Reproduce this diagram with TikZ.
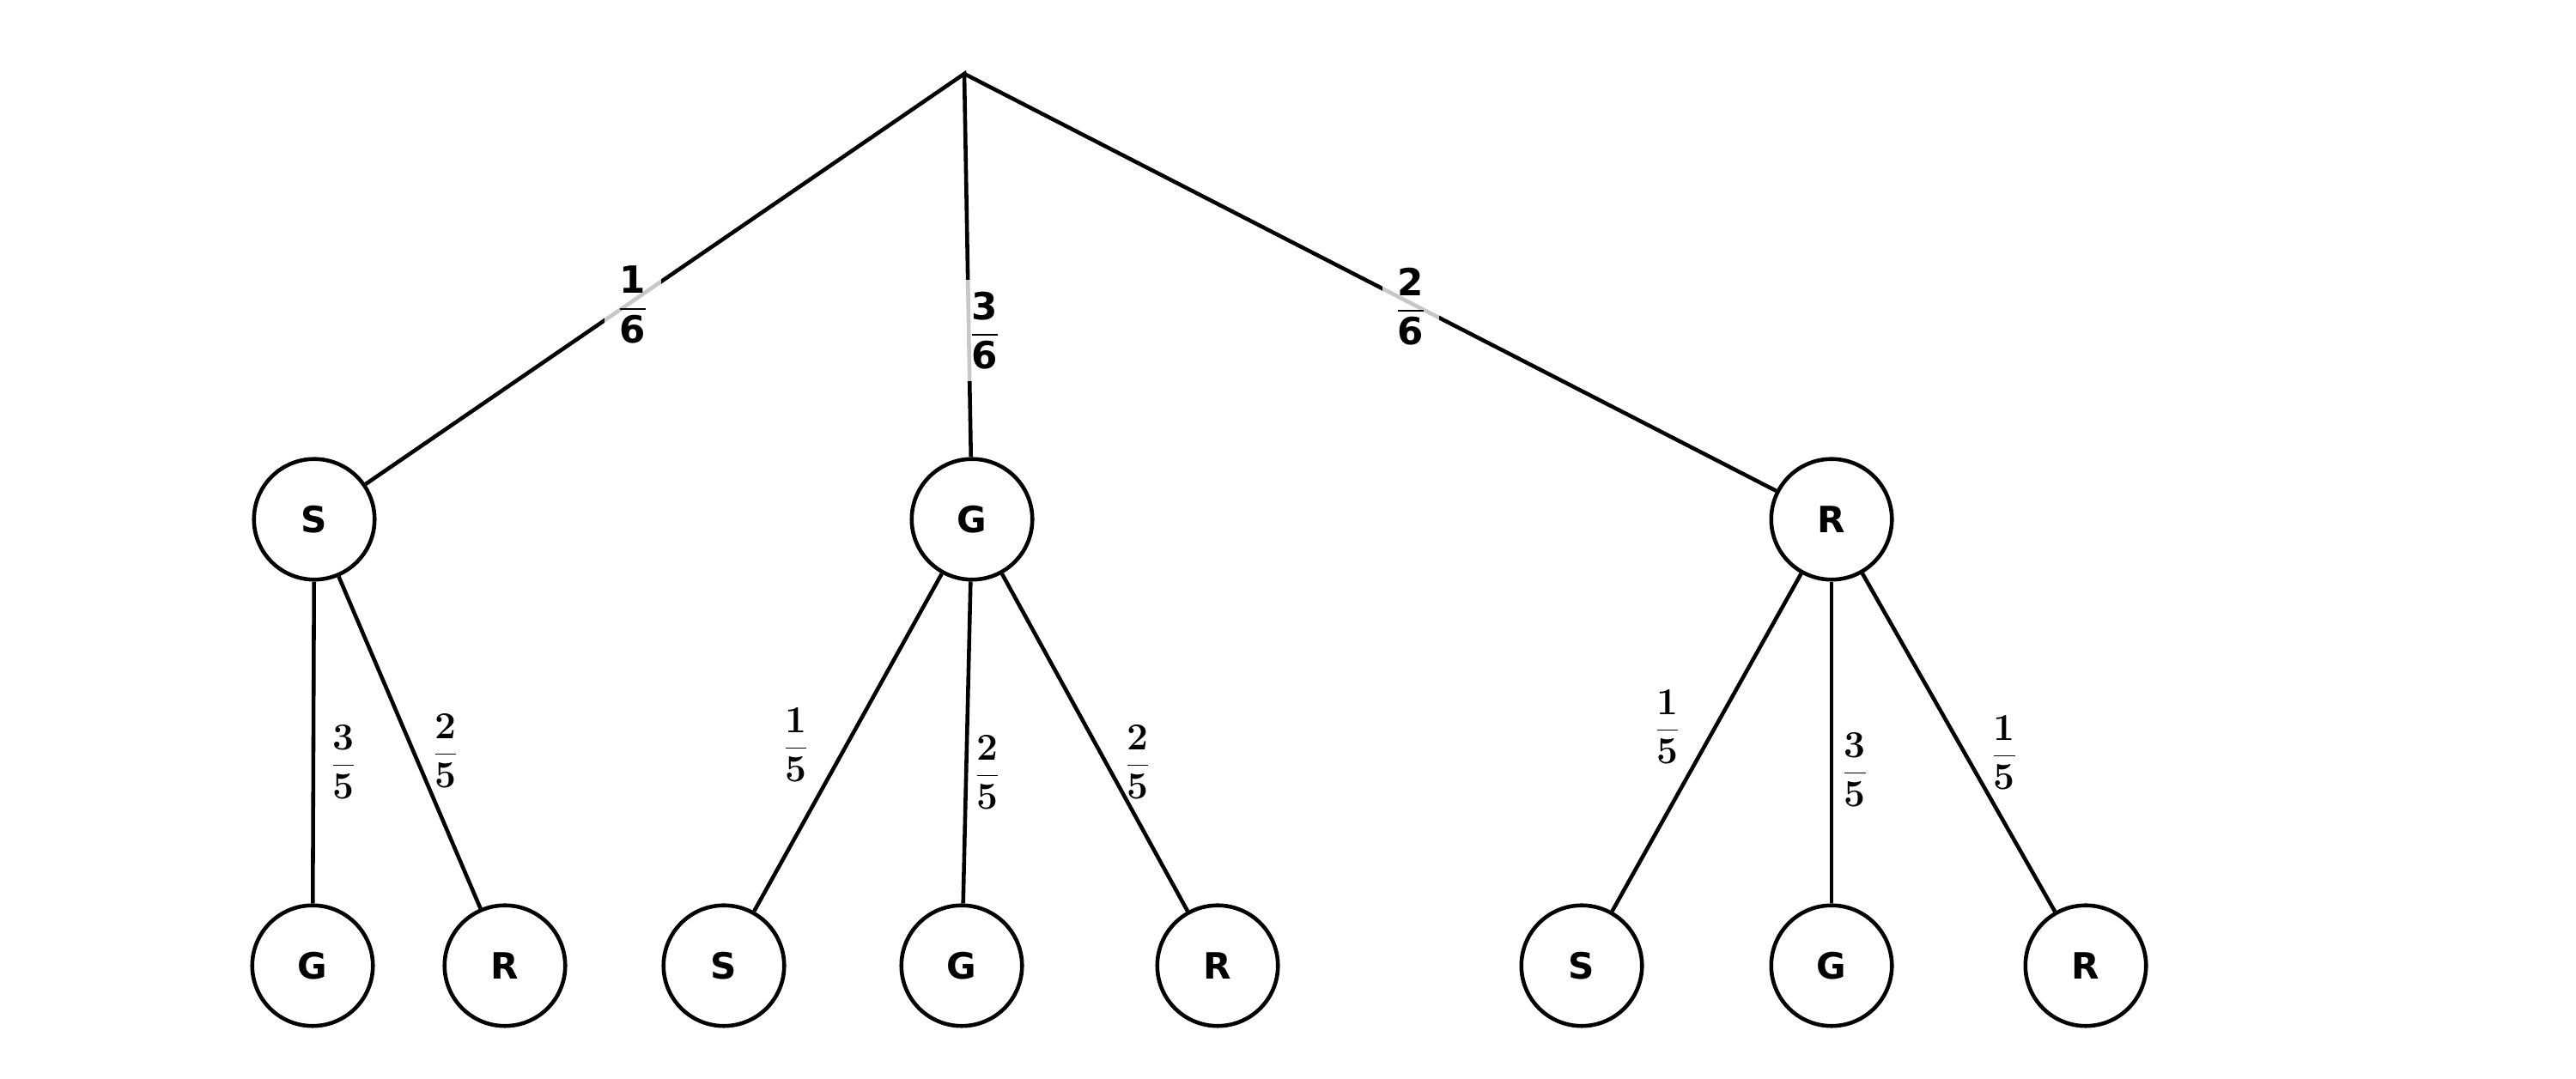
\documentclass[tikz,border=0pt]{standalone}
\usepackage[no-math]{fontspec}
\setmainfont{DejaVu Sans}
\newfontfamily\lmrfam{Latin Modern Roman}
\tikzset{
  edge/.style={line width=1.3pt, black},
  vertex/.style={circle, draw, line width=1.3pt, minimum size=1.405cm, inner sep=0pt, fill=white,
    font=\fontsize{12}{14}\selectfont\bfseries},
  toplab/.style={fill=white, fill opacity=0.78, text opacity=1, inner sep=4pt,
    font=\fontsize{12.4}{14}\selectfont},
  lowlab/.style={inner sep=1pt, font=\fontsize{12.6}{15}\selectfont},
}
\newcommand{\tf}[2]{$\displaystyle\frac{\mbox{\bfseries #1}}{\mbox{\bfseries #2}}$}
\newcommand{\lf}[2]{$\displaystyle\frac{\mbox{\lmrfam\bfseries #1}}{\mbox{\lmrfam\bfseries #2}}$}
\begin{document}
\begin{tikzpicture}
\useasboundingbox (0,0) rectangle (30,12.57);
% nodes
\coordinate (root) at (11.23,11.71);
\node[vertex] (S1) at (3.66,6.52) {S};
\node[vertex] (G1) at (11.32,6.52) {G};
\node[vertex] (R1) at (21.33,6.52) {R};
\node[vertex] (S1G) at (3.64,1.32) {G};
\node[vertex] (S1R) at (5.88,1.32) {R};
\node[vertex] (G1S) at (8.43,1.32) {S};
\node[vertex] (G1G) at (11.20,1.32) {G};
\node[vertex] (G1R) at (14.18,1.32) {R};
\node[vertex] (R1S) at (18.42,1.32) {S};
\node[vertex] (R1G) at (21.33,1.32) {G};
\node[vertex] (R1R) at (24.29,1.32) {R};
% edges
\draw[edge, line join=miter] (S1) -- (root) -- (G1);
\draw[edge] (root) -- (R1);
\draw[edge] (S1) -- (S1G);
\draw[edge] (S1) -- (S1R);
\draw[edge] (G1) -- (G1S);
\draw[edge] (G1) -- (G1G);
\draw[edge] (G1) -- (G1R);
\draw[edge] (R1) -- (R1S);
\draw[edge] (R1) -- (R1G);
\draw[edge] (R1) -- (R1R);
% top labels
\node[toplab] (l1) at (7.37,9.02) {\tf{1}{6}};
\node[toplab] (l2) at (11.47,8.72) {\tf{3}{6}};
\node[toplab] (l3) at (16.43,9.00) {\tf{2}{6}};
% lower labels
\node[lowlab] (a1) at (4.00,3.69) {\lf{3}{5}};
\node[lowlab] (a2) at (5.19,3.82) {\lf{2}{5}};
\node[lowlab] (b1) at (9.27,3.89) {\lf{1}{5}};
\node[lowlab] (b2) at (11.50,3.57) {\lf{2}{5}};
\node[lowlab] (b3) at (13.25,3.69) {\lf{2}{5}};
\node[lowlab] (c1) at (19.42,4.10) {\lf{1}{5}};
\node[lowlab] (c2) at (21.60,3.60) {\lf{3}{5}};
\node[lowlab] (c3) at (23.34,3.80) {\lf{1}{5}};
\end{tikzpicture}
\end{document}
